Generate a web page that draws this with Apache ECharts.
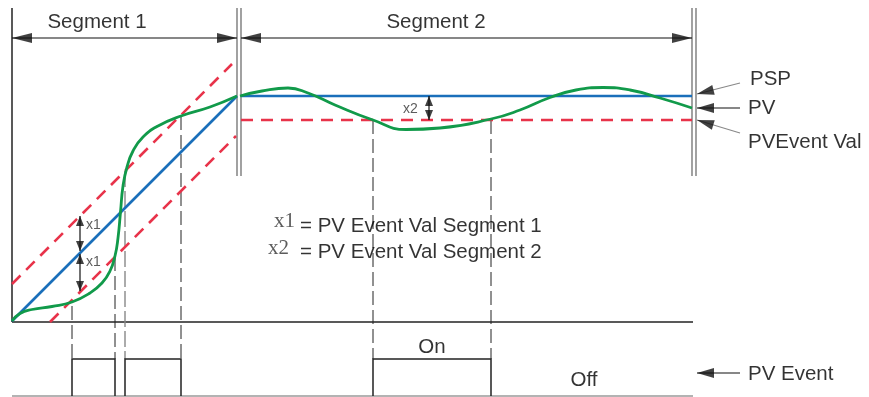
<!DOCTYPE html>
<html><head><meta charset="utf-8">
<script src="https://cdn.jsdelivr.net/npm/echarts@6/dist/echarts.min.js"></script>
<style>html,body{margin:0;padding:0;background:#fff}#c{width:869px;height:397px}</style>
</head><body><div id="c"></div>
<script>
// Diagram coordinates: x = time units, y = level units (0 at top, increasing downward)
const pspRamp = [[12,321],[237,96]];
const pspHold = [[241,96],[692,96]];
const bandUpper1 = [[12,284],[232,64]];
const bandLower1 = [[50,322],[236,136]];
const bandLower2 = [[241,120],[692,120]];
const pvSegment1 = [[12,321],[20,313.5],[32,309.5],[52,306.5],[72,302],[90,293],[102,283],[110,271],[115,256],[118,238],[120.5,212],[123,186],[127,167],[133,151],[143,137],[158,126],[181,116],[210,107],[237,96]];
const pvSegment2 = [[240,96],[262,91],[288,88],[308,93],[335,105],[373,120],[406,129.5],[440,128],[491,119],[520,110],[550,97.5],[576,90],[603,87.5],[630,90],[660,98],[692,108]];
const eventOn = [[72,115],[125,181],[373,491]];
const eventLow = 396, eventHigh = 359, baseline = 322, axisTop = 8;
const breakTop = 8, breakBottom = 176;
const triggerLines = [[72,306],[115,257],[181,116],[373,120],[491,120]];
const triggerGray = [[125,171]];
// Arrowheads: [tipX, tipY, dirX, dirY, kind]
const arrowHeads = [
  [12,38,-1,0,'big'],[237,38,1,0,'big'],[241,38,-1,0,'big'],[692,38,1,0,'big'],
  [697,94,-43,11,'mid'],[697,108,-1,0,'mid'],[697,120,-43,-13,'mid'],[697,373,-1,0,'mid'],
  [80,216,0,-1,'small'],[80,251,0,1,'small'],[80,254,0,-1,'small'],[80,291,0,1,'small'],
  [429,96,0,-1,'small'],[429,120,0,1,'small']
];
const arrowShafts = [[[80,216],[80,251]],[[80,254],[80,291]],[[429,96],[429,120]],[[740,108],[697,108]],[[740,373],[697,373]]];
const pointerShafts = [[[740,83],[697,94]],[[740,133],[697,120]]];
// Texts: [text, x, y, anchor, kind]
const texts = [
  ['Segment 1',97,22,'center','main'],['Segment 2',436,22,'center','main'],
  ['PSP',750,79,'left','main'],['PV',748,108,'left','main'],['PVEvent Val',748,142,'left','main'],
  ['PV Event',748,374,'left','main'],['On',432,347,'center','main'],['Off',584,380,'center','main'],
  ['= PV Event Val Segment 1',300,226,'left','main'],['= PV Event Val Segment 2',300,252,'left','main'],
  ['x1',274,221,'left','sym'],['x2',268,248,'left','sym'],
  ['x1',86,225,'left','tiny'],['x1',86,262,'left','tiny'],['x2',403,109,'left','tiny']
];

const FONT = "'Liberation Sans', Arial, sans-serif";
const sizes = {big:[10,20], mid:[10,17], small:[8,10]};
const textStyles = {
  main:{fontSize:20.5,color:'#000',fontFamily:FONT},
  sym:{fontSize:21,color:'#333',fontFamily:"'Liberation Serif', serif"},
  tiny:{fontSize:14,color:'#333',fontFamily:"'Liberation Sans Narrow', 'Liberation Sans', sans-serif"}
};

function segs(list){return list.map(c=>({coords:c}));}
function linesSeries(data, style, z){
  return {type:'lines',coordinateSystem:'cartesian2d',polyline:true,silent:true,z:z||2,
    lineStyle:Object.assign({opacity:1,curveness:0},style),data:segs(data),symbol:'none'};
}
const pulses = eventOn.map(([a,b])=>[[a,eventLow],[a,eventHigh],[b,eventHigh],[b,eventLow]]);
const breakLines = [237,241,692,696].map(x=>[[x,breakTop],[x,breakBottom]]);

const arrowData = arrowHeads.map(([tx,ty,dx,dy,k])=>{
  const L = Math.hypot(dx,dy), ux = dx/L, uy = dy/L, s = sizes[k];
  return {value:[tx-ux*s[1]/2, ty-uy*s[1]/2], symbolSize:s,
          symbolRotate: Math.atan2(-dx,-dy)*180/Math.PI};
});
const textData = texts.map(([t,x,y,a,k])=>({value:[x,y],name:t,
  label:Object.assign({show:true,formatter:t,position:[0,0],align:a,verticalAlign:'middle'},textStyles[k])}));

const option = {
  animation:false,
  grid:{left:0,right:0,top:0,bottom:0,containLabel:false},
  xAxis:{type:'value',min:0,max:869,show:false},
  yAxis:{type:'value',min:0,max:397,inverse:true,show:false},
  series:[
    linesSeries([[[12,axisTop],[12,baseline]],[[12,baseline],[693,baseline]]],{color:'#222',width:1.5}),
    linesSeries([[[12,eventLow],[693,eventLow]]],{color:'#9a9a9a',width:1.5}),
    linesSeries(breakLines,{color:'#7a7a7a',width:1.4}),
    linesSeries([[[12,38],[237,38]],[[241,38],[692,38]]],{color:'#111',width:1.1}),
    linesSeries(triggerLines.map(([x,y])=>[[x,y],[x,eventHigh]]),{color:'#222',width:1,type:[14,5]}),
    linesSeries(triggerGray.map(([x,y])=>[[x,y],[x,eventHigh]]),{color:'#888',width:1.4,type:[16,4]}),
    linesSeries(pulses,{color:'#222',width:1.5}),
    linesSeries([pspRamp,pspHold],{color:'#1a6fba',width:2.6},3),
    linesSeries([bandUpper1,bandLower1,bandLower2],{color:'#e8334a',width:2.6,type:[12,8]},3),
    {type:'line',data:pvSegment1,smooth:0.5,showSymbol:false,symbol:'none',z:4,silent:true,
      lineStyle:{color:'#119a4a',width:2.8}},
    {type:'line',data:pvSegment2,smooth:0.5,showSymbol:false,symbol:'none',z:4,silent:true,
      lineStyle:{color:'#119a4a',width:2.8}},
    linesSeries(arrowShafts,{color:'#111',width:1.2},5),
    linesSeries(pointerShafts,{color:'#888',width:1.1},5),
    {type:'scatter',symbol:'triangle',data:arrowData,itemStyle:{color:'#111'},z:6,silent:true,
      symbolRotate:(v,p)=>arrowData[p.dataIndex].symbolRotate},
    {type:'scatter',symbolSize:0,data:textData,z:7,silent:true}
  ]
};
const chart = echarts.init(document.getElementById('c'),null,{renderer:'canvas'});
chart.setOption(option);
</script></body></html>
